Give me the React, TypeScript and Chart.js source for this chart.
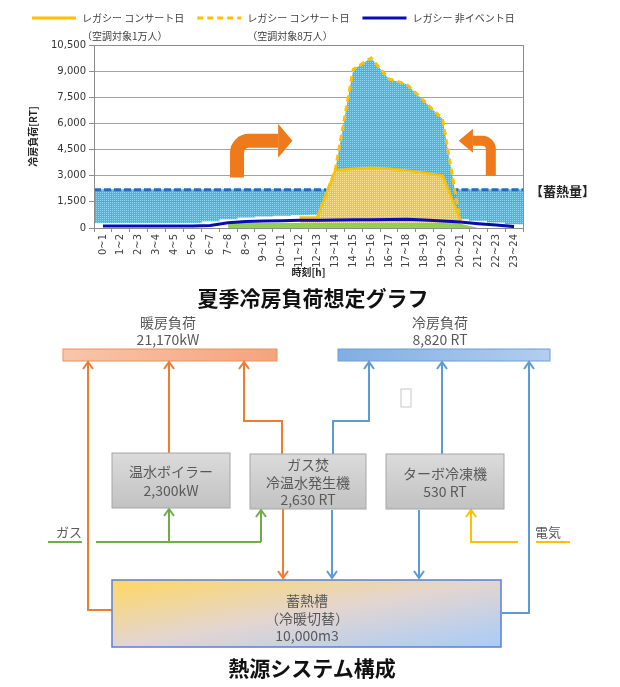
import React, { useEffect, useRef } from 'react';
import { Chart, registerables } from 'chart.js';

Chart.register(...registerables);

// 時間帯（横軸カテゴリ）
const hourLabels = [
  '0~1', '1~2', '2~3', '3~4', '4~5', '5~6', '6~7', '7~8', '8~9', '9~10', '10~11', '11~12',
  '12~13', '13~14', '14~15', '15~16', '16~17', '17~18', '18~19', '19~20', '20~21', '21~22', '22~23', '23~24',
];

// 蓄熱量（上端・下端, RT）
const storageTop = [2200, 2200, 2200, 2200, 2200, 2200, 2200, 2200, 2200, 2200, 2200, 2200, 2200, null, null, null, null, null, null, null, 2200, 2200, 2200, 2200];
const storageBottom = [300, 300, 300, 300, 300, 300, 400, 520, 620, 680, 720, 760, 780, null, null, null, null, null, null, null, 520, 430, 330, 230];

// レガシー コンサート日（空調対象8万人）
const concert80k = [null, null, null, null, null, null, null, null, null, null, null, null, 620, 3350, 9100, 9750, 8550, 8250, 7250, 6250, 300, null, null, null];
// レガシー コンサート日（空調対象1万人）
const concert10k = [null, null, null, null, null, null, null, null, null, null, null, 600, 620, 3300, 3400, 3450, 3400, 3300, 3150, 3000, 450, null, null, null];
// ベース負荷
const baseLoad = [null, null, null, null, null, null, null, 280, 280, 280, 280, 280, 280, 280, 280, 280, 280, 280, 280, 280, 250, 0, null, null];
// レガシー 非イベント日
const nonEventDay = [120, 120, 120, 120, 120, 120, 150, 300, 370, 400, 420, 440, 450, 460, 470, 480, 490, 500, 460, 400, 340, 250, 170, 80];

const yMax = 10500;
const yStep = 1500;

const legendTitles = ['レガシー コンサート日', 'レガシー コンサート日', 'レガシー 非イベント日'];
const legendNotes = ['（空調対象1万人）', '（空調対象8万人）', ''];
const storageNote = '【蓄熱量】';

// 蓄熱の流れを示す曲がり矢印（時刻[h]・負荷[RT]）
const shiftArrows = [
  { stemHour: 8.0, baseRT: 2900, turnRT: 5000, headHour: 10.3, tipHour: 11.1, thick: 14, head: 17 },
  { stemHour: 22.2, baseRT: 3000, turnRT: 5000, headHour: 21.2, tipHour: 20.4, thick: 10, head: 12 },
];

const JP = "'Noto Sans CJK JP', 'Noto Sans', sans-serif";
const NUM = "'DejaVu Sans', sans-serif";

const GOLD = '#FFC000';
const NAVY = '#0B0BB2';
const STORE_LINE = '#1F6EC4';
const ARROW = '#EE7A1C';

function dotPattern(base: string, dot: string): CanvasPattern {
  const c = document.createElement('canvas');
  c.width = 4;
  c.height = 4;
  const g = c.getContext('2d')!;
  g.fillStyle = base;
  g.fillRect(0, 0, 4, 4);
  g.fillStyle = dot;
  g.fillRect(0, 0, 1, 1);
  g.fillRect(2, 0, 1, 1);
  g.fillRect(0, 2, 1, 1);
  g.fillRect(2, 2, 1, 1);
  return g.createPattern(c, 'repeat')!;
}

// 蓄熱量の上端を破線で描く
const storageDash = {
  id: 'storageDash',
  afterDatasetDraw(chart: any, args: any) {
    if (args.index !== 0) return;
    const meta = chart.getDatasetMeta(0);
    const ys = chart.scales.y;
    const ctx = chart.ctx;
    ctx.save();
    ctx.strokeStyle = STORE_LINE;
    ctx.lineWidth = 3;
    ctx.setLineDash([7, 3]);
    let run: { x0: number; x1: number; y: number } | null = null;
    const flush = () => {
      if (!run) return;
      ctx.beginPath();
      ctx.moveTo(run.x0, run.y);
      ctx.lineTo(run.x1, run.y);
      ctx.stroke();
      run = null;
    };
    storageTop.forEach((v, i) => {
      if (v == null) {
        flush();
        return;
      }
      const el = meta.data[i];
      const y = ys.getPixelForValue(v);
      if (!run) run = { x0: el.x - el.width / 2, x1: el.x + el.width / 2, y };
      else run.x1 = el.x + el.width / 2;
    });
    flush();
    ctx.restore();
  },
};

// プロットエリアの枠線、矢印、注記
const overlay = {
  id: 'overlay',
  afterDatasetsDraw(chart: any) {
    const { ctx, chartArea: a } = chart;
    const xs = chart.scales.x;
    const ys = chart.scales.y;
    const hx = (h: number) => xs.getPixelForValue(h - 0.5);

    ctx.save();
    ctx.strokeStyle = '#8C8C8C';
    ctx.lineWidth = 1;
    ctx.strokeRect(Math.round(a.left) + 0.5, Math.round(a.top) + 0.5, Math.round(a.right - a.left), Math.round(a.bottom - a.top));

    ctx.fillStyle = ARROW;
    ctx.strokeStyle = ARROW;
    ctx.lineCap = 'butt';
    shiftArrows.forEach((m) => {
      const sx = hx(m.stemHour);
      const sy = ys.getPixelForValue(m.baseRT);
      const cy = ys.getPixelForValue(m.turnRT);
      const hb = hx(m.headHour);
      const tip = hx(m.tipHour);
      const dir = Math.sign(hb - sx);
      const r = m.thick * 0.85;
      ctx.lineWidth = m.thick;
      ctx.beginPath();
      ctx.moveTo(sx, sy);
      ctx.lineTo(sx, cy + r);
      ctx.arcTo(sx, cy, sx + dir * r, cy, r);
      ctx.lineTo(hb, cy);
      ctx.stroke();
      ctx.beginPath();
      ctx.moveTo(hb, cy - m.head);
      ctx.lineTo(tip, cy);
      ctx.lineTo(hb, cy + m.head);
      ctx.closePath();
      ctx.fill();
    });

    ctx.fillStyle = '#262626';
    ctx.font = `bold 13px ${JP}`;
    ctx.textBaseline = 'middle';
    ctx.textAlign = 'left';
    ctx.fillText(storageNote, a.right + 7, ys.getPixelForValue(2200) + 1);
    ctx.restore();
  },
};

// 凡例（2行目に空調対象人数）
const topLegend = {
  id: 'topLegend',
  afterDraw(chart: any) {
    const ctx = chart.ctx;
    const ds = chart.data.datasets;
    const items = [ds[2], ds[1], ds[4]];
    ctx.save();
    ctx.font = `10px ${JP}`;
    ctx.textBaseline = 'middle';
    ctx.textAlign = 'left';
    let x = 32;
    items.forEach((d: any, k: number) => {
      ctx.strokeStyle = d.borderColor;
      ctx.lineWidth = 3;
      ctx.setLineDash(d.borderDash || []);
      ctx.beginPath();
      ctx.moveTo(x, 18);
      ctx.lineTo(x + 44, 18);
      ctx.stroke();
      ctx.setLineDash([]);
      ctx.fillStyle = '#404040';
      ctx.fillText(legendTitles[k], x + 50, 18);
      if (legendNotes[k]) ctx.fillText(legendNotes[k], x + 50, 36);
      x += 50 + ctx.measureText(legendTitles[k]).width + 13;
    });
    ctx.restore();
  },
};

function LoadChart() {
  const ref = useRef<HTMLCanvasElement>(null);
  useEffect(() => {
    const canvas = ref.current!;
    const blueFill = dotPattern('rgba(36,180,240,0.9)', 'rgba(150,222,250,0.9)');
    const yellowFill = dotPattern('#FFC21F', '#FFE594');
    const chart = new Chart(canvas, {
      type: 'bar',
      data: {
        labels: hourLabels,
        datasets: [
          {
            type: 'bar',
            label: '蓄熱量',
            data: storageBottom.map((lo, i) => (lo == null ? null : [lo, storageTop[i] as number])) as any,
            backgroundColor: blueFill,
            borderWidth: 0,
            barPercentage: 1,
            categoryPercentage: 1,
            order: 5,
          },
          {
            type: 'line',
            label: 'レガシー コンサート日（空調対象8万人）',
            data: concert80k,
            borderColor: GOLD,
            borderDash: [6, 4],
            borderWidth: 3,
            backgroundColor: blueFill,
            fill: 'origin',
            pointRadius: 0,
            tension: 0,
            order: 4,
          },
          {
            type: 'line',
            label: 'レガシー コンサート日（空調対象1万人）',
            data: concert10k,
            borderColor: GOLD,
            borderWidth: 2.5,
            backgroundColor: yellowFill,
            fill: 'origin',
            pointRadius: 0,
            tension: 0,
            order: 3,
          },
          {
            type: 'line',
            label: 'ベース',
            data: baseLoad,
            borderColor: '#92D050',
            borderWidth: 0,
            backgroundColor: '#92D050',
            fill: 'origin',
            pointRadius: 0,
            tension: 0,
            order: 2,
          },
          {
            type: 'line',
            label: 'レガシー 非イベント日',
            data: nonEventDay,
            borderColor: NAVY,
            borderWidth: 3,
            fill: false,
            pointRadius: 0,
            tension: 0,
            order: 1,
          },
        ] as any,
      },
      options: {
        responsive: false,
        animation: false,
        devicePixelRatio: 1,
        layout: { padding: { left: 0, right: 97, top: 45, bottom: 0 } },
        plugins: { legend: { display: false }, tooltip: { enabled: false } },
        scales: {
          x: {
            type: 'category',
            offset: true,
            grid: { display: true, drawOnChartArea: false, drawTicks: true, tickLength: 4, offset: true, color: '#8C8C8C' },
            border: { display: true, color: '#8C8C8C' },
            ticks: {
              autoSkip: false,
              minRotation: 90,
              maxRotation: 90,
              padding: 2,
              color: '#404040',
              font: { family: NUM, size: 10 },
            },
            title: {
              display: true,
              text: '時刻[h]',
              color: '#262626',
              font: { family: JP, size: 10, weight: 'bold' },
              padding: { top: 0, bottom: 7 },
            },
            afterFit: (s: any) => {
              s.height = 57;
            },
          },
          y: {
            min: 0,
            max: yMax,
            ticks: { stepSize: yStep, color: '#333333', padding: 3, font: { family: NUM, size: 10 } },
            grid: { color: '#A3A3A3', tickLength: 5, drawTicks: true, tickColor: '#8C8C8C' },
            border: { display: true, color: '#8C8C8C' },
            title: {
              display: true,
              text: '冷房負荷[RT]',
              color: '#262626',
              font: { family: JP, size: 10, weight: 'bold' },
              padding: { top: 27, bottom: 0 },
            },
            afterFit: (s: any) => {
              s.width = 94;
            },
          },
        },
      } as any,
      plugins: [storageDash, overlay, topLegend],
    });
    return () => chart.destroy();
  }, []);
  return (
    <canvas
      ref={ref}
      width={620}
      height={285}
      style={{ position: 'absolute', left: 0, top: 0, width: 620, height: 285, display: 'block' }}
    />
  );
}

const ORANGE = '#ED7D31';
const BLUE = '#5B9BD5';
const GREEN = '#70AD47';
const YELLOW = '#FFC000';

const up = (x: number, y: number) => `${x - 5},${y + 7} ${x},${y} ${x + 5},${y + 7}`;
const down = (x: number, y: number) => `${x - 5},${y - 7} ${x},${y} ${x + 5},${y - 7}`;

function Txt({ x, y, children, size = 14, weight = 400, color = '#595959' }: any) {
  return (
    <text
      x={x}
      y={y}
      fontSize={size}
      fontWeight={weight}
      fill={color}
      fontFamily={JP}
      textAnchor="middle"
      dominantBaseline="central"
    >
      {children}
    </text>
  );
}

function SystemDiagram() {
  const line = { fill: 'none', strokeWidth: 2, strokeLinejoin: 'miter' as const };
  return (
    <svg width={620} height={687} style={{ position: 'absolute', left: 0, top: 0 }}>
      <defs>
        <linearGradient id="heatGrad" x1="0" y1="0" x2="1" y2="0">
          <stop offset="0" stopColor="#F9C5A9" />
          <stop offset="1" stopColor="#F4A47D" />
        </linearGradient>
        <linearGradient id="coolGrad" x1="0" y1="0" x2="1" y2="0">
          <stop offset="0" stopColor="#80AEE2" />
          <stop offset="1" stopColor="#B3CEEE" />
        </linearGradient>
        <linearGradient id="boxGrad" x1="0" y1="0" x2="0" y2="1">
          <stop offset="0" stopColor="#DBDBDB" />
          <stop offset="1" stopColor="#C2C2C2" />
        </linearGradient>
        <linearGradient id="tankGrad" x1="0" y1="0" x2="1" y2="1">
          <stop offset="0" stopColor="#FFD862" />
          <stop offset="0.5" stopColor="#E3D5D0" />
          <stop offset="1" stopColor="#A8CCF9" />
        </linearGradient>
      </defs>

      <Txt x={313} y={297} size={21} weight={700} color="#111111">夏季冷房負荷想定グラフ</Txt>

      <Txt x={168} y={322}>暖房負荷</Txt>
      <Txt x={168} y={339}>21,170kW</Txt>
      <rect x={63} y={349} width={214} height={12} fill="url(#heatGrad)" stroke="#E8915F" strokeWidth={1} />

      <Txt x={440} y={322}>冷房負荷</Txt>
      <Txt x={440} y={339}>8,820 RT</Txt>
      <rect x={338} y={349} width={212} height={12} fill="url(#coolGrad)" stroke="#6E9ED6" strokeWidth={1} />

      <rect x={401} y={389} width={10} height={18} fill="#FFFFFF" stroke="#C8C8C8" strokeWidth={1} />

      {/* 温水・冷温水（暖房側） */}
      <g stroke={ORANGE} {...line}>
        <polyline points="88,363 88,610 112,610" />
        <polyline points="169,363 169,453" />
        <polyline points="244,363 244,421 282,421 282,454" />
        <polyline points="283,509 283,577" />
        <polyline points={up(88, 362)} />
        <polyline points={up(169, 362)} />
        <polyline points={up(244, 362)} />
        <polyline points={down(283, 578)} />
      </g>

      {/* 冷水（冷房側） */}
      <g stroke={BLUE} {...line}>
        <polyline points="369,363 369,421 333,421 333,454" />
        <polyline points="332,510 332,577" />
        <polyline points="442,363 442,454" />
        <polyline points="419,510 419,577" />
        <polyline points="529,363 529,613 502,613" />
        <polyline points={up(369, 362)} />
        <polyline points={up(442, 362)} />
        <polyline points={up(529, 362)} />
        <polyline points={down(332, 578)} />
        <polyline points={down(419, 578)} />
      </g>

      {/* ガス */}
      <g stroke={GREEN} {...line}>
        <polyline points="48,542 82,542" />
        <polyline points="96,542 261,542" />
        <polyline points="169,542 169,510" />
        <polyline points="261,542 261,511" />
        <polyline points={up(169, 509)} />
        <polyline points={up(261, 510)} />
      </g>
      <Txt x={69} y={531} size={13}>ガス</Txt>

      {/* 電気 */}
      <g stroke={YELLOW} {...line}>
        <polyline points="518,542 471,542 471,511" />
        <polyline points="536,542 570,542" />
        <polyline points={up(471, 510)} />
      </g>
      <Txt x={548} y={531} size={13}>電気</Txt>

      <rect x={112} y={453} width={118} height={55} fill="url(#boxGrad)" stroke="#A6A6A6" strokeWidth={1} />
      <Txt x={171} y={471}>温水ボイラー</Txt>
      <Txt x={171} y={490}>2,300kW</Txt>

      <rect x={250} y={454} width={116} height={55} fill="url(#boxGrad)" stroke="#A6A6A6" strokeWidth={1} />
      <Txt x={308} y={464}>ガス焚</Txt>
      <Txt x={308} y={482}>冷温水発生機</Txt>
      <Txt x={308} y={499}>2,630 RT</Txt>

      <rect x={386} y={454} width={118} height={55} fill="url(#boxGrad)" stroke="#A6A6A6" strokeWidth={1} />
      <Txt x={445} y={473}>ターボ冷凍機</Txt>
      <Txt x={445} y={491}>530 RT</Txt>

      <rect x={112} y={580} width={389} height={67} fill="url(#tankGrad)" stroke="#5A7FDA" strokeWidth={1.5} />
      <Txt x={307} y={600}>蓄熱槽</Txt>
      <Txt x={307} y={618}>（冷暖切替）</Txt>
      <Txt x={307} y={635}>10,000m3</Txt>

      <Txt x={312} y={667} size={21} weight={700} color="#111111">熱源システム構成</Txt>
    </svg>
  );
}

export default function App() {
  return (
    <div style={{ position: 'absolute', left: 0, top: 0, width: 620, height: 687, background: '#FFFFFF', overflow: 'hidden' }}>
      <LoadChart />
      <SystemDiagram />
    </div>
  );
}
